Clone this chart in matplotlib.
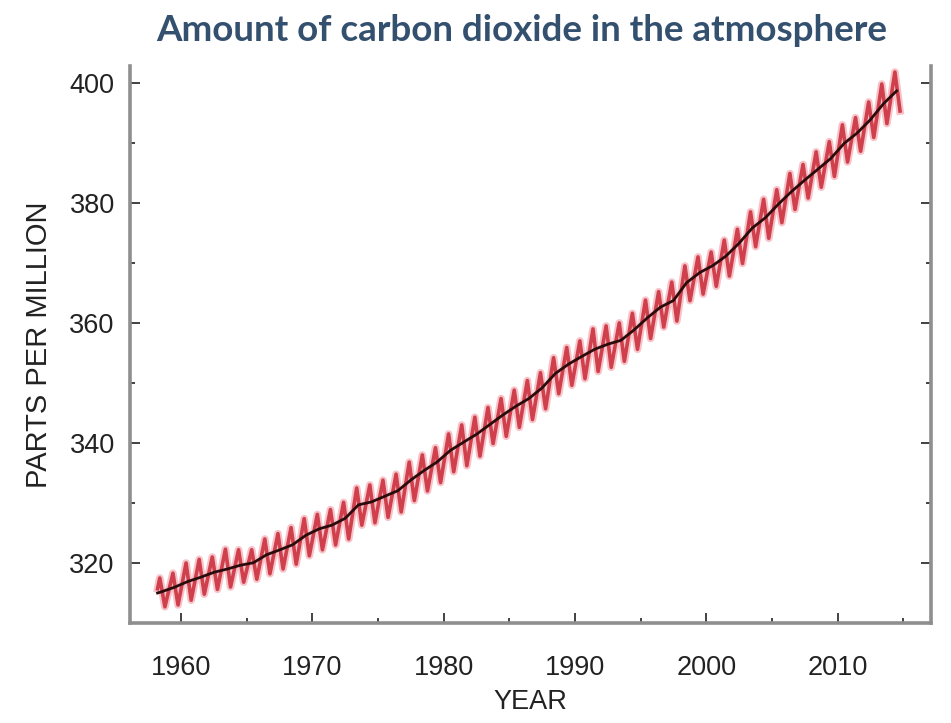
import matplotlib
matplotlib.use("Agg")
import matplotlib.pyplot as plt
import matplotlib.patheffects as pe
from matplotlib.ticker import MultipleLocator

# Mauna Loa CO2 record (ppm)
years = list(range(1958, 2015))

# annual mean concentration (black trend line)
annual_mean = [
    315.2, 315.97, 316.91, 317.64, 318.45, 318.99, 319.62, 320.04, 321.37, 322.18,
    323.05, 324.62, 325.68, 326.32, 327.45, 329.68, 330.18, 331.11, 332.04, 333.83,
    335.40, 336.84, 338.75, 340.11, 341.45, 343.05, 344.65, 346.12, 347.42, 349.19,
    351.57, 353.12, 354.39, 355.61, 356.45, 357.10, 358.83, 360.82, 362.61, 363.73,
    366.70, 368.38, 369.55, 371.14, 373.28, 375.80, 377.52, 379.80, 381.90, 383.79,
    385.60, 387.43, 389.90, 391.65, 393.85, 396.52, 398.65,
]

# seasonal maximum (May) each year
may_peak = [
    317.5, 318.3, 320.0, 320.6, 321.0, 322.3, 322.2, 322.2, 324.0, 324.9,
    325.9, 327.4, 328.1, 328.9, 330.1, 332.5, 333.0, 333.8, 334.8, 336.8,
    338.0, 339.2, 341.5, 343.0, 344.3, 345.9, 347.4, 348.8, 350.4, 351.7,
    354.2, 355.9, 357.0, 359.0, 359.5, 360.0, 361.6, 363.8, 365.2, 366.8,
    369.5, 371.0, 371.8, 373.8, 375.6, 378.5, 380.6, 382.2, 384.9, 386.4,
    388.5, 390.2, 393.0, 394.2, 396.8, 399.8, 401.8,
]

# seasonal minimum (late September / October) each year
autumn_low = [
    312.7, 313.0, 313.8, 314.8, 315.6, 316.0, 316.8, 317.3, 318.2, 319.0,
    319.8, 321.2, 322.2, 323.0, 324.0, 326.3, 326.7, 327.6, 328.5, 330.4,
    332.0, 333.4, 335.2, 336.2, 337.8, 339.9, 341.1, 342.6, 343.9, 345.7,
    348.2, 349.6, 350.7, 351.9, 352.6, 353.6, 355.6, 357.4, 359.3, 360.3,
    363.7, 364.8, 366.1, 367.8, 369.9, 372.7, 374.1, 376.7, 378.9, 380.8,
    382.6, 384.4, 386.8, 388.6, 390.9, 393.2, 395.3,
]

# first observation: March 1958
first_obs_time = 1958.2
first_obs_value = 315.7

PEAK_FRAC = 0.37     # May
LOW_FRAC = 0.76      # end of September

# seasonal zig-zag series
t_season = [first_obs_time]
v_season = [first_obs_value]
for yr, hi, lo in zip(years, may_peak, autumn_low):
    t_season += [yr + PEAK_FRAC, yr + LOW_FRAC]
    v_season += [hi, lo]

t_trend = [first_obs_time] + [yr + 0.5 for yr in years]
v_trend = [315.0] + annual_mean

fig = plt.figure(figsize=(9.51, 7.23), dpi=100)
ax = fig.add_axes([0.1367, 0.1383, 0.842, 0.7704])

ax.plot(t_season, v_season, color="#cf3f4c", lw=2.6,
        solid_joinstyle="round", zorder=2,
        path_effects=[pe.Stroke(linewidth=5.5, foreground="#f4aab2", alpha=0.7),
                      pe.Normal()])
ax.plot(t_trend, v_trend, color="#2a0c0c", lw=2.0, zorder=3)

ax.set_xlim(1956.1, 2017.1)
ax.set_ylim(310, 402.8)

ax.xaxis.set_major_locator(MultipleLocator(10))
ax.xaxis.set_minor_locator(MultipleLocator(5))
ax.yaxis.set_major_locator(MultipleLocator(20))
ax.yaxis.set_minor_locator(MultipleLocator(10))

frame = "#8f8f8f"
for side in ("left", "right", "bottom"):
    ax.spines[side].set_color(frame)
    ax.spines[side].set_linewidth(2.6)
ax.spines["top"].set_visible(False)

ax.tick_params(which="both", direction="in", color="#333333", width=1.3,
               right=True, top=False, labelsize=19.5, labelcolor="#222222")
ax.tick_params(which="major", length=7)
ax.tick_params(which="minor", length=3.5)
ax.tick_params(axis="x", pad=23)
ax.tick_params(axis="y", pad=11)
for lab in ax.get_xticklabels() + ax.get_yticklabels():
    lab.set_family(["Liberation Sans", "DejaVu Sans"])

ax.set_xlabel("YEAR", fontsize=19.5, color="#222222", labelpad=6,
              family=["Liberation Sans", "DejaVu Sans"])
ax.set_ylabel("PARTS PER MILLION", fontsize=21, color="#222222", labelpad=12,
              family=["Liberation Sans", "DejaVu Sans"])

fig.text(0.549, 0.958, "Amount of carbon dioxide in the atmosphere",
         ha="center", va="center", fontsize=26.5, fontweight="bold",
         color="#34506f", family=["Lato", "DejaVu Sans"])

fig.savefig("out.png", dpi=100, facecolor="white")
